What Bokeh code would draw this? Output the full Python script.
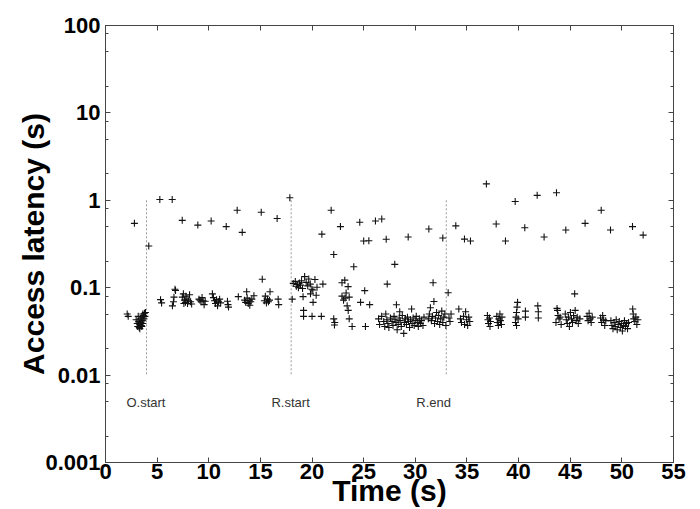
from bokeh.plotting import figure
from bokeh.models import (ColumnDataSource, FixedTicker, LinearAxis, LogAxis,
                          Range1d)
from bokeh.embed import file_html
from bokeh.resources import INLINE
from bokeh.core.properties import value

# ---------------- data ----------------
# Sparse slow accesses (around 0.2 s - 1.5 s)
t_high = [2.80, 4.19, 5.26, 6.46, 7.43, 8.94, 10.23, 11.69, 12.75, 13.24,
          15.08, 16.62, 17.85, 20.95, 21.85, 22.10, 22.75, 24.04, 24.62, 25.00,
          25.50, 26.14, 26.75, 27.18, 28.01, 29.31, 31.31, 32.66, 33.92, 34.76,
          35.34, 36.88, 37.83, 38.73, 39.67, 40.60, 41.80, 42.47, 43.67, 44.57,
          46.44, 48.00, 48.90, 51.03, 52.06]
lat_high = [0.545, 0.30, 1.02, 1.02, 0.59, 0.52, 0.58, 0.50, 0.77, 0.43,
            0.73, 0.62, 1.07, 0.41, 0.77, 0.24, 0.50, 0.174, 0.56, 0.342,
            0.345, 0.58, 0.61, 0.358, 0.185, 0.38, 0.47, 0.37, 0.51, 0.36,
            0.342, 1.54, 0.535, 0.342, 0.97, 0.486, 1.14, 0.38, 1.22, 0.457,
            0.545, 0.77, 0.457, 0.50, 0.40]

# Regular accesses before R.start  (time s, latency s)
base_before = [
    [2.10, 0.050], [2.20, 0.047],
    [2.97, 0.043], [3.07, 0.039], [3.12, 0.036], [3.22, 0.041], [3.27, 0.035],
    [3.32, 0.038], [3.37, 0.044], [3.42, 0.040], [3.47, 0.037], [3.52, 0.046],
    [3.57, 0.042], [3.62, 0.039], [3.67, 0.048], [3.72, 0.044], [3.77, 0.051],
    [3.82, 0.047], [3.87, 0.052], [3.32, 0.034], [3.52, 0.036], [3.17, 0.047],
    [3.62, 0.050],
    [5.33, 0.073], [5.43, 0.067],
    [6.48, 0.062], [6.58, 0.069], [6.63, 0.078], [6.73, 0.096], [6.78, 0.093],
    [7.44, 0.078], [7.54, 0.085], [7.64, 0.072], [7.74, 0.068], [7.79, 0.080],
    [7.89, 0.074], [7.94, 0.066], [8.04, 0.071], [8.14, 0.083], [8.24, 0.069],
    [8.34, 0.065], [7.59, 0.066],
    [9.05, 0.074], [9.15, 0.072], [9.25, 0.069], [9.35, 0.077], [9.45, 0.071],
    [9.55, 0.064], [9.65, 0.070],
    [10.35, 0.085], [10.45, 0.077], [10.55, 0.071], [10.65, 0.066], [10.75, 0.073],
    [10.85, 0.062], [10.95, 0.069], [11.05, 0.074], [11.15, 0.067],
    [11.81, 0.070], [11.86, 0.064], [11.91, 0.060], [12.86, 0.079],
    [13.47, 0.072], [13.57, 0.068], [13.67, 0.090], [13.72, 0.076], [13.82, 0.066],
    [13.92, 0.071], [13.97, 0.063], [14.07, 0.069], [14.17, 0.074], [14.37, 0.081],
    [15.18, 0.125],
    [15.38, 0.071], [15.48, 0.080], [15.58, 0.067], [15.68, 0.074], [15.78, 0.069],
    [15.88, 0.072], [15.93, 0.090],
    [16.72, 0.074], [16.77, 0.064], [18.08, 0.074],
]

# Regular accesses between R.start and R.end
base_during = [
    [18.18, 0.112], [18.38, 0.118], [18.48, 0.104], [18.58, 0.109], [18.68, 0.100],
    [18.78, 0.113], [18.88, 0.107], [18.98, 0.120], [19.08, 0.098], [19.28, 0.134],
    [19.43, 0.115], [19.58, 0.105], [19.68, 0.126], [19.83, 0.110], [19.98, 0.096],
    [20.08, 0.094], [20.28, 0.124], [20.48, 0.101], [21.05, 0.110],
    [19.13, 0.079], [20.10, 0.068], [20.40, 0.082], [19.85, 0.085], [19.18, 0.055],
    [19.18, 0.047], [20.00, 0.047], [20.90, 0.047],
    [22.90, 0.114], [23.17, 0.122], [23.49, 0.103], [22.90, 0.080], [23.20, 0.076],
    [23.05, 0.072], [23.60, 0.078], [23.30, 0.087], [23.40, 0.062], [23.50, 0.055],
    [23.60, 0.044], [23.88, 0.036], [22.10, 0.044], [22.17, 0.0375], [22.20, 0.040],
    [25.10, 0.0925], [24.70, 0.068], [25.58, 0.064], [25.17, 0.036],
    [26.44, 0.044], [26.54, 0.038], [26.74, 0.047], [26.94, 0.041], [27.04, 0.036],
    [27.14, 0.050], [27.24, 0.043], [27.34, 0.039], [27.44, 0.035], [27.59, 0.045],
    [27.74, 0.041], [27.84, 0.037], [27.94, 0.047], [28.04, 0.043], [28.14, 0.040],
    [28.24, 0.033], [28.34, 0.038], [28.44, 0.045], [28.54, 0.042], [28.64, 0.036],
    [28.74, 0.048], [28.88, 0.030], [28.94, 0.040], [29.04, 0.044], [29.14, 0.038],
    [29.24, 0.046], [29.34, 0.041], [29.44, 0.035], [29.54, 0.043], [29.64, 0.057],
    [29.69, 0.039], [29.79, 0.045], [29.89, 0.037], [29.99, 0.042], [30.09, 0.047],
    [30.19, 0.040], [30.29, 0.036], [30.39, 0.044], [30.49, 0.039], [30.59, 0.042],
    [30.74, 0.037], [30.84, 0.046], [28.17, 0.0637], [27.28, 0.110], [28.49, 0.053],
    [31.26, 0.044], [31.36, 0.050], [31.46, 0.059], [31.56, 0.042], [31.66, 0.047],
    [31.72, 0.114], [31.80, 0.0695], [31.86, 0.039], [31.96, 0.045], [32.06, 0.052],
    [32.16, 0.041], [32.26, 0.048], [32.36, 0.038], [32.46, 0.044], [32.56, 0.054],
    [32.66, 0.040], [32.76, 0.046], [32.86, 0.050], [32.96, 0.037],
]

# Regular accesses after R.end
base_after = [
    [33.18, 0.0875], [33.26, 0.045], [33.36, 0.041], [33.46, 0.050],
    [34.21, 0.057], [34.37, 0.044], [34.47, 0.040], [34.67, 0.047], [34.77, 0.038],
    [34.87, 0.053], [34.97, 0.043], [35.07, 0.037], [35.17, 0.046], [35.27, 0.041],
    [36.98, 0.048], [37.03, 0.043], [37.08, 0.039], [37.18, 0.045], [37.23, 0.036],
    [37.28, 0.041],
    [37.89, 0.047], [37.94, 0.040], [38.04, 0.037], [38.09, 0.044], [38.19, 0.050],
    [38.24, 0.042], [38.34, 0.038], [38.39, 0.046],
    [39.70, 0.040], [39.75, 0.046], [39.80, 0.052], [39.85, 0.060], [39.90, 0.068],
    [39.95, 0.044], [39.80, 0.037],
    [40.66, 0.054], [40.66, 0.046],
    [41.86, 0.062], [41.91, 0.053], [41.91, 0.045],
    [43.62, 0.040], [43.72, 0.058], [43.77, 0.055], [43.82, 0.048], [43.92, 0.044],
    [44.02, 0.046], [44.12, 0.038],
    [44.52, 0.050], [44.62, 0.043], [44.72, 0.039], [44.82, 0.046], [44.92, 0.036],
    [45.02, 0.052], [45.12, 0.044], [45.22, 0.040], [45.32, 0.048], [45.43, 0.085],
    [45.48, 0.055], [45.58, 0.042], [45.68, 0.046], [45.78, 0.039], [45.93, 0.044],
    [46.63, 0.047], [46.73, 0.042], [46.83, 0.051], [46.93, 0.044], [47.03, 0.040],
    [47.13, 0.046],
    [47.94, 0.045], [48.04, 0.040], [48.14, 0.048], [48.24, 0.043], [48.34, 0.037],
    [48.44, 0.042],
    [48.94, 0.042], [49.04, 0.037], [49.14, 0.034], [49.25, 0.040], [49.35, 0.036],
    [49.45, 0.043], [49.55, 0.033], [49.65, 0.038], [49.75, 0.041], [49.85, 0.035],
    [49.95, 0.039], [50.05, 0.032], [50.15, 0.037], [50.25, 0.042], [50.35, 0.036],
    [50.45, 0.039], [50.55, 0.034], [50.65, 0.040],
    [51.05, 0.057], [51.10, 0.050], [51.15, 0.044], [51.25, 0.041], [51.35, 0.046],
    [51.45, 0.038], [51.55, 0.043],
]

event_names = ["O.start", "R.start", "R.end"]
event_times = [3.97, 17.98, 33.0]
event_label_times = [2.03, 16.07, 30.1]

x_ticks = [0, 5, 10, 15, 20, 25, 30, 35, 40, 45, 50, 55]
y_ticks = [0.001, 0.01, 0.1, 1, 10, 100]
y_tick_labels = ["0.001", "0.01", "0.1", "1", "10", "100"]
y_minor_ticks = [0.002, 0.005, 0.008, 0.02, 0.05, 0.08, 0.2, 0.5, 0.8,
                 2, 5, 8, 20, 50, 80]

# ---------------- figure ----------------
FONT = "Liberation Sans"

p = figure(width=700, height=509,
           x_range=Range1d(0, 55), y_range=Range1d(0.001, 100),
           y_axis_type="log", x_axis_location=None, y_axis_location=None,
           output_backend="svg", toolbar_location=None,
           min_border_left=105, min_border_right=27,
           min_border_top=25, min_border_bottom=46)
p.grid.visible = False
p.outline_line_color = "#444444"
p.outline_line_width = 1
p.background_fill_color = "white"
p.border_fill_color = "white"

def style_axis(ax):
    ax.axis_line_color = "#444444"
    ax.major_tick_in = 5
    ax.major_tick_out = 0
    ax.minor_tick_in = 3
    ax.minor_tick_out = 0
    ax.major_tick_line_color = "#444444"
    ax.minor_tick_line_color = "#444444"
    ax.major_label_text_font = FONT
    ax.major_label_text_font_style = "bold"
    ax.major_label_text_color = "black"
    ax.major_label_text_font_size = "22px"
    ax.axis_label_text_font = FONT
    ax.axis_label_text_font_size = "30px"
    ax.axis_label_text_font_style = "bold"
    ax.axis_label_text_color = "black"

xb = LinearAxis(ticker=FixedTicker(ticks=x_ticks), axis_label="Time (s)")
style_axis(xb)
xb.minor_tick_line_color = None
xb.major_label_standoff = 1
xb.axis_label_standoff = -8
p.add_layout(xb, "below")

xt = LinearAxis(ticker=FixedTicker(ticks=x_ticks))
style_axis(xt)
xt.minor_tick_line_color = None
xt.major_label_overrides = {t: "" for t in x_ticks}
xt.major_label_standoff = 0
p.add_layout(xt, "above")

yl = LogAxis(ticker=FixedTicker(ticks=y_ticks, minor_ticks=y_minor_ticks),
             axis_label="Access latency (s)")
style_axis(yl)
yl.major_label_overrides = {t: s for t, s in zip(y_ticks, y_tick_labels)}
yl.major_label_standoff = 5
yl.axis_label_standoff = -8
p.add_layout(yl, "left")

yr = LogAxis(ticker=FixedTicker(ticks=y_ticks, minor_ticks=y_minor_ticks))
style_axis(yr)
yr.major_label_overrides = {t: "" for t in y_ticks}
yr.major_label_standoff = 0
p.add_layout(yr, "right")

# event markers
p.segment(x0=event_times, y0=[1] * len(event_times),
          x1=event_times, y1=[0.01] * len(event_times),
          line_color="#9a9a9a", line_width=1, line_dash="2 2")
p.text(x=event_label_times, y=[0.0048] * len(event_times), text=event_names,
       text_font=value(FONT), text_font_size="13px", text_color="#333333",
       text_align="left", text_baseline="middle")

# points
all_t = t_high + [a for a, b in base_before] + [a for a, b in base_during] + [a for a, b in base_after]
all_l = lat_high + [b for a, b in base_before] + [b for a, b in base_during] + [b for a, b in base_after]
src = ColumnDataSource(data=dict(t=all_t, lat=all_l))
p.scatter(x="t", y="lat", source=src, marker="cross", size=7,
          line_color="#111111", line_width=1.1)

open("out.html", "w").write(file_html(p, INLINE))
